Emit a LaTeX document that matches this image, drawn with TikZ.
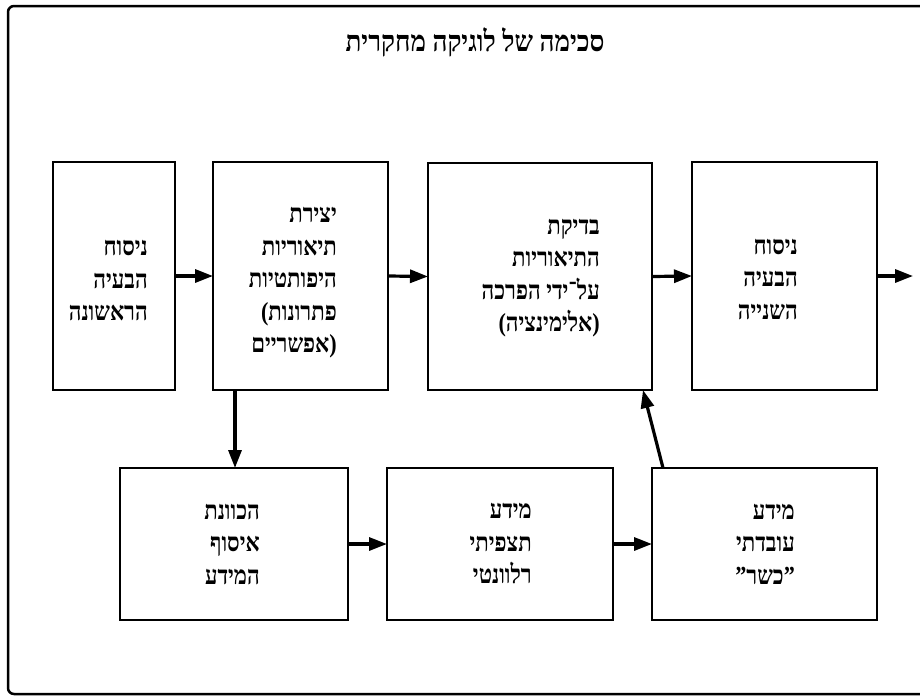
\documentclass[tikz,border=0pt]{standalone}
\usepackage{fontspec}
\setmainfont{Liberation Serif}
\newfontfamily\heb[Script=Hebrew, FakeStretch=0.85, UprightFont={Liberation Serif Bold}]{Liberation Serif}
\newfontfamily\hebtitle[Script=Hebrew, FakeStretch=0.9, UprightFont={Liberation Serif Bold}]{Liberation Serif}
\newfontfamily\paren[FakeStretch=0.85, UprightFont={Liberation Serif Bold}]{Liberation Serif}
\TeXXeTstate=1
\usetikzlibrary{arrows.meta,calc}
\begin{document}
\begin{tikzpicture}[x=1pt,y=-1pt,
 box/.style={draw, line width=1.7pt, inner sep=0pt, outer sep=0pt},
 txt/.style={anchor=east, align=right, font=\heb\fontsize{26}{32.5}\selectfont, inner sep=0pt},
 arr/.style={line width=3.2pt, -{Triangle[length=18pt,width=13pt]}},
]
\useasboundingbox (0,0) rectangle (920,696);
\draw[line width=2.5pt, rounded corners=6pt] (924,6) -- (8,6) -- (8,694) -- (924,694);

\node[font=\hebtitle\fontsize{29}{34}\selectfont, inner sep=0pt] (title) at (475,42) {\beginR סכימה של לוגיקה מחקרית\endR};

% top row
\node[box, minimum width=122, minimum height=228] (b1) at (114,276) {};
\node[box, minimum width=175, minimum height=228] (b2) at (300.5,276) {};
\node[box, minimum width=224, minimum height=227] (b3) at (540,276.5) {};
\node[box, minimum width=185, minimum height=228] (b4) at (784.5,276) {};
% bottom row
\node[box, minimum width=228, minimum height=152] (b5) at (234,544) {};
\node[box, minimum width=226, minimum height=152] (b6) at (500,544) {};
\node[box, minimum width=225, minimum height=152] (b7) at (764.5,544) {};

% texts
\node[txt] (t1) at (148,281) {ניסוח\\הבעיה\\הראשונה};
\node[txt] (t2) at (337,283) {יצירת\\תיאוריות\\היפותטיות\\\hbox{\paren(}\hbox{פתרונות}\\\hbox{אפשריים}\hbox{\paren)}};
\node[txt] (t3) at (600,278) {בדיקת\\התיאוריות\\\beginR על־ידי הפרכה\endR\\\hbox{\paren(}\hbox{אלימינציה}\hbox{\paren)}};
\node[txt] (t4) at (798,279) {ניסוח\\הבעיה\\השנייה};
\node[txt] (t5) at (260,544) {הכוונת\\איסוף\\המידע};
\node[txt] (t6) at (532,544) {מידע\\תצפיתי\\רלוונטי};
\node[txt] (t7) at (795,544) {מידע\\עובדתי\\\hbox{\paren”}\hbox{כשר}\hbox{\paren”}};

\coordinate (out) at (913,276);

% connectors
\draw[arr] (b1.east) -- (b2.west);
\draw[arr] (b2.east) -- (b3.west);
\draw[arr] (b3.east) -- (b4.west);
\draw[arr] (b4.east) -- (out);
\draw[arr] ([xshift=22pt]b2.south west) -- ([xshift=115pt]b5.north west);
\draw[arr] (b5.east) -- (b6.west);
\draw[arr] (b6.east) -- (b7.west);
\draw[arr] ([xshift=11pt]b7.north west) -- ([xshift=-9pt]b3.south east);
\end{tikzpicture}
\end{document}
